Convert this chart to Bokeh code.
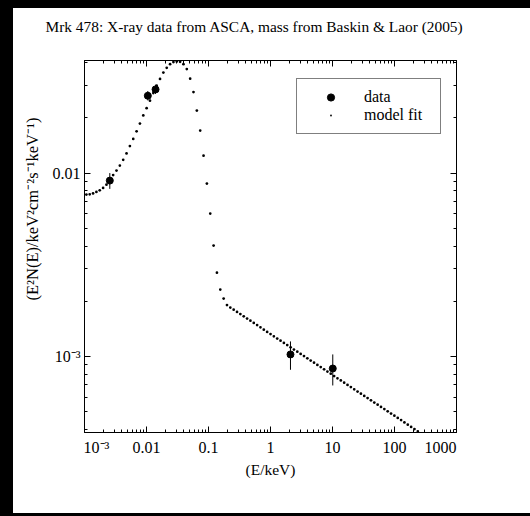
import numpy as np
from bokeh.plotting import figure
from bokeh.models import (Range1d, LogAxis, FixedTicker, Legend, LegendItem, Spacer, Title)
from bokeh.layouts import row, column
from bokeh.embed import file_html
from bokeh.resources import INLINE

title_text = "Mrk 478: X-ray data from ASCA, mass from Baskin & Laor (2005)"
x_label = "(E/keV)"
y_label = "(E\u00b2N(E)/keV\u00b2cm\u207b\u00b2s\u207b\u00b9keV\u207b\u00b9)"

x_ticks = [1e-3, 1e-2, 1e-1, 1.0, 10.0, 100.0, 1000.0]
x_tick_labels = ["10\u207b\u00b3", "0.01", "0.1", "1", "10", "100", "1000"]
y_ticks = [1e-3, 1e-2]
y_tick_labels = ["10\u207b\u00b3", "0.01"]

# ASCA data points (keV, E^2 N(E)) with vertical error bars
data_E = [2.56e-3, 0.0105, 0.0140, 2.10, 10.1]
data_F = [9.1e-3, 0.0264, 0.0286, 1.026e-3, 8.6e-4]
data_F_lo = [8.2e-3, 0.0249, 0.0270, 8.46e-4, 6.95e-4]
data_F_hi = [1.0e-2, 0.0280, 0.0303, 1.208e-3, 1.026e-3]

# model fit (log10 of E and of E^2 N(E))
model_logE = [
    -2.970, -2.916, -2.862, -2.808, -2.754, -2.700, -2.646, -2.592, -2.538, -2.484,
    -2.430, -2.376, -2.322, -2.268, -2.214, -2.160, -2.106, -2.052, -1.998, -1.944,
    -1.890, -1.836, -1.782, -1.728, -1.674, -1.620, -1.566, -1.512, -1.458, -1.404,
    -1.350, -1.296, -1.242, -1.188, -1.134, -1.080, -1.026, -0.972, -0.918, -0.864,
    -0.810, -0.756, -0.702, -0.648, -0.594, -0.540, -0.486, -0.432, -0.378, -0.324,
    -0.270, -0.216, -0.162, -0.108, -0.054, 0.000, 0.054, 0.108, 0.162, 0.216,
    0.270, 0.324, 0.378, 0.432, 0.486, 0.540, 0.594, 0.648, 0.702, 0.756,
    0.810, 0.864, 0.918, 0.972, 1.026, 1.080, 1.134, 1.188, 1.242, 1.296,
    1.350, 1.404, 1.458, 1.512, 1.566, 1.620, 1.674, 1.728, 1.782, 1.836,
    1.890, 1.944, 1.998, 2.052, 2.106, 2.160, 2.214, 2.268, 2.322, 2.376, 2.430,
]
model_logF = [
    -2.117, -2.116, -2.111, -2.103, -2.094, -2.081, -2.063, -2.041, -2.011, -1.986,
    -1.959, -1.928, -1.893, -1.853, -1.814, -1.772, -1.730, -1.686, -1.646, -1.605,
    -1.564, -1.523, -1.487, -1.452, -1.426, -1.406, -1.395, -1.391, -1.393, -1.406,
    -1.433, -1.485, -1.558, -1.659, -1.768, -1.905, -2.057, -2.221, -2.395, -2.543,
    -2.635, -2.684, -2.720, -2.733, -2.745, -2.757, -2.769, -2.781, -2.793, -2.805,
    -2.817, -2.829, -2.841, -2.854, -2.866, -2.878, -2.890, -2.902, -2.914, -2.926,
    -2.938, -2.950, -2.962, -2.974, -2.986, -2.998, -3.010, -3.022, -3.034, -3.046,
    -3.058, -3.070, -3.082, -3.094, -3.107, -3.119, -3.131, -3.143, -3.155, -3.167,
    -3.179, -3.191, -3.203, -3.215, -3.227, -3.239, -3.251, -3.263, -3.275, -3.287,
    -3.299, -3.311, -3.323, -3.335, -3.347, -3.360, -3.372, -3.384, -3.396, -3.408, -3.420,
]

model_E = (10.0 ** np.array(model_logE)).tolist()
model_F = (10.0 ** np.array(model_logF)).tolist()

FONT = "Liberation Serif"
NB = "\u00a0"

x_minor = [m * 10.0 ** d for d in range(-3, 3) for m in range(2, 10)]
y_minor = [m * 10.0 ** d for d in range(-4, -1) for m in range(2, 10)
           if 3.85e-4 <= m * 10.0 ** d <= 0.0411]

p = figure(
    x_axis_type="log", y_axis_type="log",
    x_range=Range1d(1e-3, 1e3), y_range=Range1d(3.85e-4, 0.0411),
    width=517, height=505,
    min_border_left=71, min_border_right=74, min_border_top=52, min_border_bottom=81,
    output_backend="svg", toolbar_location=None,
    background_fill_color="white", border_fill_color="white",
)
p.grid.visible = False
p.outline_line_color = "black"

p.title.text = title_text + "\n"
p.title.align = "left"
p.title.offset = -39
p.title.text_font = FONT
p.title.text_font_style = "normal"
p.title.text_font_size = "15.4px"
p.title.text_color = "black"
p.title.text_line_height = 1.2
p.title.standoff = 10

xt = FixedTicker(ticks=x_ticks, minor_ticks=x_minor)
yt = FixedTicker(ticks=y_ticks, minor_ticks=y_minor)

# end labels sit inside the frame edges, as in the original
x_label_map = {t: l for t, l in zip(x_ticks, x_tick_labels)}
x_label_map[x_ticks[0]] = NB * 6 + x_tick_labels[0]
x_label_map[x_ticks[-1]] = x_tick_labels[-1] + NB * 8

for ax in p.xaxis:
    ax.ticker = xt
    ax.major_label_overrides = x_label_map
    ax.axis_label = x_label
    ax.axis_label_text_font = FONT
    ax.axis_label_text_font_style = "normal"
    ax.axis_label_text_font_size = "15.5px"
    ax.axis_label_text_color = "black"
    ax.axis_label_standoff = 2
    ax.major_label_standoff = 6
for ax in p.yaxis:
    ax.ticker = yt
    ax.major_label_overrides = {t: l for t, l in zip(y_ticks, y_tick_labels)}
    ax.major_label_standoff = 4

for ax in list(p.xaxis) + list(p.yaxis):
    ax.major_label_text_font = FONT
    ax.major_label_text_font_size = "16px"
    ax.major_label_text_color = "black"
    ax.axis_line_color = "black"
    ax.major_tick_line_color = "black"
    ax.minor_tick_line_color = "black"
    ax.major_tick_out = 0
    ax.minor_tick_out = 0
    ax.major_tick_in = 6
    ax.minor_tick_in = 3

top_ax = LogAxis(ticker=xt, major_label_overrides={t: "" for t in x_ticks},
                 major_label_standoff=0,
                 major_tick_in=6, major_tick_out=0, minor_tick_in=3, minor_tick_out=0,
                 axis_line_color="black")
right_ax = LogAxis(ticker=yt, major_label_overrides={t: "" for t in y_ticks},
                   major_label_standoff=0,
                   major_tick_in=6, major_tick_out=0, minor_tick_in=3, minor_tick_out=0,
                   axis_line_color="black")
p.add_layout(top_ax, "above")
p.add_layout(right_ax, "right")

y_title = Title(text=y_label, align="left", offset=132, text_font=FONT,
                text_font_style="normal", text_font_size="16.5px",
                text_color="black", standoff=15)
p.add_layout(y_title, "left")

r_model = p.scatter(model_E, model_F, marker="dot", size=11,
                    line_color="black", fill_color="black")
p.segment(x0=data_E, y0=data_F_lo, x1=data_E, y1=data_F_hi,
          line_color="black", line_width=1)
r_data = p.scatter(data_E, data_F, marker="circle", size=7, color="black")

legend = Legend(
    items=[LegendItem(label="data", renderers=[r_data]),
           LegendItem(label="model fit", renderers=[r_model])],
    location=(212, 298), margin=0, padding=9, spacing=0,
    glyph_width=49, glyph_height=18, label_height=18, label_width=67,
    label_standoff=9, label_text_font=FONT, label_text_font_size="16px",
    label_text_color="black",
    border_line_color="black", border_line_width=1, background_fill_color="white",
    background_fill_alpha=1.0,
)
p.add_layout(legend)

top_strip = Spacer(width=530, height=8, styles={"background-color": "#000000"})
left_strip = Spacer(width=13, height=505, styles={"background-color": "#000000"})
layout = column(top_strip, row(left_strip, p),
                styles={"background-color": "#ffffff"})

html = file_html(layout, INLINE, title="Mrk 478")
html = html.replace("<head>", "<head><style>html,body{background:#000000;}</style>", 1)
open("out.html", "w").write(html)
